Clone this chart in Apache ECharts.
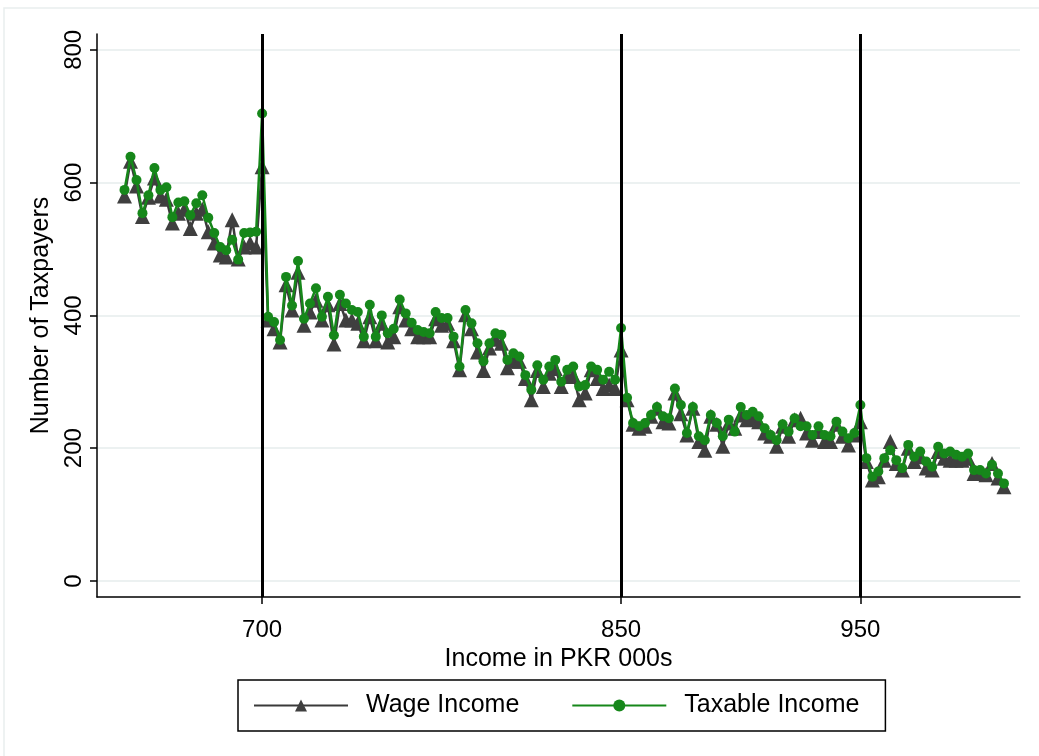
<!DOCTYPE html>
<html>
<head>
<meta charset="utf-8">
<title>Taxpayers by income</title>
<script src="https://cdn.jsdelivr.net/npm/echarts@6/dist/echarts.min.js"></script>
<style>
  html, body { margin: 0; padding: 0; background: #ffffff; }
  #chart { width: 1039px; height: 756px; }
</style>
</head>
<body>
<div id="chart"></div>
<script>
// Income bins (PKR 000s), bin midpoints
const incomeBins = [
  642.5,645,647.5,650,652.5,655,657.5,660,662.5,665,667.5,670,672.5,675,677.5,680,682.5,685,687.5,690,692.5,695,697.5,700,
  702.5,705,707.5,710,712.5,715,717.5,720,722.5,725,727.5,730,732.5,735,737.5,740,742.5,745,747.5,750,
  752.5,755,757.5,760,762.5,765,767.5,770,772.5,775,777.5,780,782.5,785,787.5,790,792.5,795,797.5,800,
  802.5,805,807.5,810,812.5,815,817.5,820,822.5,825,827.5,830,832.5,835,837.5,840,842.5,845,847.5,850,
  852.5,855,857.5,860,862.5,865,867.5,870,872.5,875,877.5,880,882.5,885,887.5,890,892.5,895,897.5,900,
  902.5,905,907.5,910,912.5,915,917.5,920,922.5,925,927.5,930,932.5,935,937.5,940,942.5,945,947.5,950,
  952.5,955,957.5,960,962.5,965,967.5,970,972.5,975,977.5,980,982.5,985,987.5,990,992.5,995,997.5,1000,
  1002.5,1005,1007.5,1010
];

// Number of taxpayers per bin, by wage income
const wageIncome = [
  580,632,595,549,578,607,580,575,539,554,560,531,554,560,526,509,491,488,544,485,503,509,503,624,
  393,380,360,446,408,465,385,405,423,393,416,357,418,393,393,388,362,398,362,388,
  360,368,413,393,380,368,368,368,395,385,388,362,318,401,380,345,317,351,364,358,
  321,331,331,305,273,317,293,313,320,293,308,310,273,283,318,305,290,295,290,348,
  273,236,230,233,248,260,240,238,283,252,220,260,210,197,248,236,203,238,230,250,
  243,245,240,223,218,203,233,218,243,245,223,212,225,210,210,236,218,205,220,240,
  180,152,157,182,210,177,167,200,180,187,170,167,195,185,182,182,182,185,162,162,
  160,177,155,142
];

// Number of taxpayers per bin, by taxable income
const taxableIncome = [
  589,639,604,554,581,622,589,593,548,570,572,551,569,581,547,524,503,498,514,484,524,525,526,704,
  398,390,363,458,415,482,395,418,441,398,428,370,431,418,408,405,368,416,368,400,
  373,380,424,403,389,378,375,373,405,396,396,368,323,408,388,358,331,358,373,371,
  333,343,338,310,288,325,303,323,333,300,318,323,293,295,323,318,303,315,303,381,
  276,238,233,238,250,262,248,245,290,265,223,262,218,212,250,238,218,243,225,262,
  250,255,248,230,220,212,236,225,245,233,233,220,233,220,218,240,225,215,223,265,
  185,157,165,185,197,182,170,205,187,195,180,172,202,192,195,190,187,192,167,167,
  162,175,162,147
];

// Axis ticks and reference lines
const xTicks = [700, 850, 950];
const yTicks = [0, 200, 400, 600, 800];
const thresholds = [700, 850, 950];

const seriesNames = ['Wage Income', 'Taxable Income'];

const pairs = (ys) => incomeBins.map((x, i) => [x, ys[i]]);

const chart = echarts.init(document.getElementById('chart'), null, { renderer: 'canvas' });

const FONT = 'Liberation Sans, Arial, sans-serif';

chart.setOption({
  animation: false,
  backgroundColor: '#ffffff',
  textStyle: { fontFamily: FONT },
  graphic: [{
    type: 'rect',
    shape: { x: 4, y: 8, width: 1040, height: 760 },
    style: { fill: 'none', stroke: '#e9eeee', lineWidth: 1.5 },
    silent: true, z: -10
  }],
  grid: { left: 97, right: 19, top: 34, bottom: 159, containLabel: false },
  xAxis: {
    type: 'value',
    min: 631,
    max: 1016.7,
    name: 'Income in PKR 000s',
    nameLocation: 'middle',
    nameGap: 46,
    nameTextStyle: { fontSize: 25, color: '#000', fontFamily: FONT },
    axisLine: { onZero: false, lineStyle: { color: '#000', width: 1.5 } },
    axisTick: { show: true, customValues: xTicks, length: 7, lineStyle: { color: '#000', width: 1.5 } },
    axisLabel: { customValues: xTicks, fontSize: 24, color: '#000', margin: 21, fontFamily: FONT },
    splitLine: { show: false }
  },
  yAxis: {
    type: 'value',
    min: -24.1,
    max: 823.8,
    name: 'Number of Taxpayers',
    nameLocation: 'middle',
    nameGap: 40,
    nameTextStyle: { fontSize: 25, color: '#000', fontFamily: FONT },
    axisLine: { show: true, onZero: false, lineStyle: { color: '#000', width: 1.5 } },
    axisTick: { show: true, customValues: yTicks, length: 7, lineStyle: { color: '#000', width: 1.5 } },
    axisLabel: { customValues: yTicks, rotate: 90, fontSize: 24, color: '#000', margin: 11, fontFamily: FONT },
    splitLine: { show: true, lineStyle: { color: '#e6eced', width: 1.5 } }
  },
  legend: {
    data: seriesNames,
    left: 238,
    top: 680,
    orient: 'horizontal',
    padding: [13, 26, 13, 15],
    itemGap: 52,
    itemWidth: 94,
    itemHeight: 15,
    borderColor: '#000',
    borderWidth: 1.5,
    textStyle: { fontSize: 25, color: '#000', fontFamily: FONT, padding: [0, 0, 0, 13] }
  },
  series: [
    {
      type: 'line',
      data: [],
      z: 1,
      silent: true,
      markLine: {
        silent: true,
        symbol: 'none',
        label: { show: false },
        lineStyle: { color: '#000', width: 3, type: 'solid' },
        data: thresholds.map(v => ({ xAxis: v }))
      }
    },
    {
      name: seriesNames[0],
      type: 'line',
      z: 2,
      data: pairs(wageIncome),
      symbol: 'triangle',
      symbolSize: 15,
      showAllSymbol: true,
      lineStyle: { color: '#3a3a3a', width: 2.5 },
      itemStyle: { color: '#3f3f3f', borderWidth: 0 }
    },
    {
      name: seriesNames[1],
      type: 'line',
      z: 3,
      data: pairs(taxableIncome),
      symbol: 'circle',
      symbolSize: 10,
      showAllSymbol: true,
      lineStyle: { color: '#16871a', width: 2.5 },
      itemStyle: { color: '#16871a', borderWidth: 0 }
    }
  ]
});
</script>
</body>
</html>
